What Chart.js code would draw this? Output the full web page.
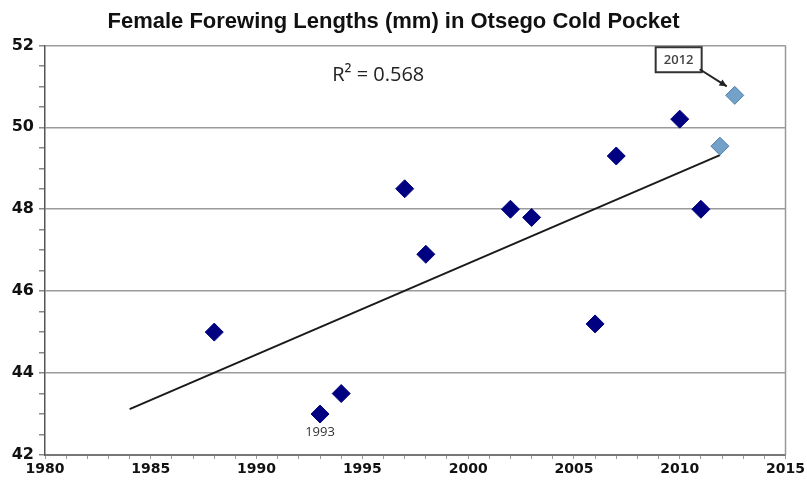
<!doctype html>
<html>
<head>
<meta charset="utf-8">
<script src="https://cdn.jsdelivr.net/npm/chart.js@4"></script>
<style>
  html, body { margin: 0; padding: 0; background: #fff; }
  #wrap { width: 807px; height: 481px; }
</style>
</head>
<body>
<div id="wrap"><canvas id="c" width="807" height="481"></canvas></div>
<script>
// Данные
const years = [1988, 1993, 1994, 1997, 1998, 2002, 2003, 2006, 2007, 2010, 2011];
const lengths = [45.0, 43.0, 43.5, 48.5, 46.9, 48.0, 47.8, 45.2, 49.3, 50.2, 48.0];
// 2012 — две светлые точки (чуть разнесены по x, как на оригинале)
const years2012 = [2011.9, 2012.6];
const lengths2012 = [49.54, 50.78];
// линия тренда (концы)
const trendX = [1984, 2011.9];
const trendY = [43.12, 49.32];

const xMin = 1980, xMax = 2015, xMajor = 5;
const yMin = 42, yMax = 52, yMajor = 2;

const titleText = 'Female Forewing Lengths (mm) in Otsego Cold Pocket';
const r2Text = 'R\u00B2 = 0.568';
const r2At = [1995.75, 51.27];
const label1993At = [1993, 42.56];
const box2012At = [2009.95, 51.65];

const pts = (xs, ys) => xs.map((x, i) => ({ x, y: ys[i] }));

// подписи, рамка «2012», стрелка и правая граница области графика
const extras = {
  id: 'extras',
  afterDraw(chart) {
    const { ctx, chartArea: a, scales: { x, y } } = chart;
    ctx.save();
    ctx.strokeStyle = '#999';
    ctx.lineWidth = 1.5;
    ctx.beginPath();
    ctx.moveTo(a.right, a.top);
    ctx.lineTo(a.right, a.bottom);
    ctx.stroke();

    ctx.fillStyle = '#222';
    ctx.textAlign = 'center';
    ctx.textBaseline = 'middle';
    ctx.font = '20px "Open Sans", sans-serif';
    ctx.fillText(r2Text, x.getPixelForValue(r2At[0]), y.getPixelForValue(r2At[1]));

    ctx.fillStyle = '#333';
    ctx.font = '13px "Open Sans", sans-serif';
    ctx.fillText('1993', x.getPixelForValue(label1993At[0]), y.getPixelForValue(label1993At[1]));

    // рамка 2012
    const bx = x.getPixelForValue(box2012At[0]), by = y.getPixelForValue(box2012At[1]);
    const bw = 46, bh = 25;
    ctx.fillStyle = '#fff';
    ctx.fillRect(bx - bw / 2, by - bh / 2, bw, bh);
    ctx.strokeStyle = '#333';
    ctx.lineWidth = 2;
    ctx.strokeRect(bx - bw / 2, by - bh / 2, bw, bh);
    ctx.fillStyle = '#444';
    ctx.font = '600 13px "Open Sans", sans-serif';
    ctx.fillText('2012', bx, by + 1);

    // стрелка к верхней точке 2012
    const tx = x.getPixelForValue(years2012[1]) - 8, ty = y.getPixelForValue(lengths2012[1]) - 9;
    const sx = bx + bw / 2 - 2, sy = by + bh / 2 - 3;
    ctx.strokeStyle = '#222';
    ctx.lineWidth = 2;
    ctx.beginPath();
    ctx.moveTo(sx, sy);
    ctx.lineTo(tx, ty);
    ctx.stroke();
    const ang = Math.atan2(ty - sy, tx - sx);
    ctx.fillStyle = '#222';
    ctx.beginPath();
    ctx.moveTo(tx, ty);
    ctx.lineTo(tx - 8 * Math.cos(ang - 0.45), ty - 8 * Math.sin(ang - 0.45));
    ctx.lineTo(tx - 8 * Math.cos(ang + 0.45), ty - 8 * Math.sin(ang + 0.45));
    ctx.closePath();
    ctx.fill();
    ctx.restore();
  }
};

new Chart(document.getElementById('c'), {
  type: 'scatter',
  data: {
    datasets: [
      { label: 'trend', type: 'line', data: pts(trendX, trendY), borderColor: '#1a1a1a', borderWidth: 2,
        pointRadius: 0, fill: false, order: 3 },
      { label: 'female', data: pts(years, lengths), pointStyle: 'rectRot', pointRadius: 9,
        backgroundColor: '#000080', borderColor: '#000080', borderWidth: 1, order: 1 },
      { label: '2012', data: pts(years2012, lengths2012), pointStyle: 'rectRot', pointRadius: 9,
        backgroundColor: '#74a1c8', borderColor: '#4f80ad', borderWidth: 1, order: 2 },
    ]
  },
  options: {
    responsive: false,
    animation: false,
    layout: { padding: { left: 0, right: 20, top: 0, bottom: 0 } },
    plugins: {
      legend: { display: false },
      tooltip: { enabled: false },
      title: { display: true, text: titleText, color: '#111',
        font: { family: '"Liberation Sans", Arial, sans-serif', size: 22, weight: 'bold' },
        padding: { top: 9, bottom: 10 } }
    },
    scales: {
      x: {
        type: 'linear', min: xMin, max: xMax,
        afterFit: (s) => { s.height = 26; },
        border: { color: '#777', width: 2 },
        grid: { drawOnChartArea: false, tickLength: 4, tickColor: '#999' },
        ticks: { stepSize: 1, autoSkip: false, maxRotation: 0, padding: 2, color: '#111',
          font: { family: '"DejaVu Sans", sans-serif', size: 14, weight: 'bold' },
          callback: (v) => (v % xMajor === 0 ? String(v) : '') }
      },
      y: {
        type: 'linear', min: yMin, max: yMax,
        afterFit: (s) => { s.width = 45; },
        border: { color: '#555', width: 1.5 },
        grid: {
          color: (c) => (c.tick && c.tick.value % yMajor === 0 ? '#9b9b9b' : 'rgba(0,0,0,0)'),
          lineWidth: 1.5, tickLength: 6, tickColor: '#888'
        },
        ticks: { stepSize: 0.5, autoSkip: false, padding: 5, color: '#111',
          font: { family: '"DejaVu Sans", sans-serif', size: 16, weight: 'bold' },
          callback: (v) => (v % yMajor === 0 ? String(v) : '') }
      }
    }
  },
  plugins: [extras]
});
</script>
</body>
</html>
